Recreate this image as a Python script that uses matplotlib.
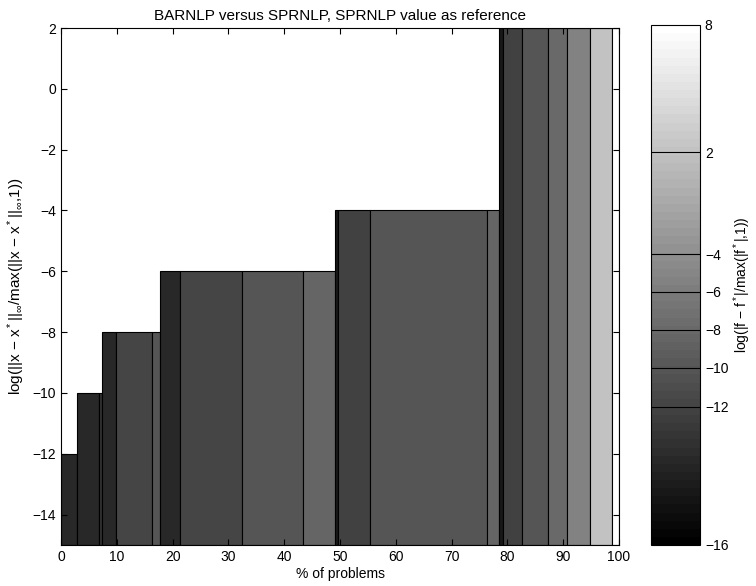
import numpy as np
import matplotlib
matplotlib.use('Agg')
import matplotlib.pyplot as plt
from matplotlib import colors

plt.rcParams['font.family'] = ['Liberation Sans', 'DejaVu Sans']
plt.rcParams['mathtext.fontset'] = 'custom'
plt.rcParams['mathtext.rm'] = 'Liberation Sans'
plt.rcParams['mathtext.it'] = 'Liberation Sans'
plt.rcParams['mathtext.sf'] = 'Liberation Sans'

# bordes de cada barra (% de problemas)
x_edges = [0, 2.87, 6.86, 7.40, 9.80, 16.25, 17.80, 21.38, 32.38, 43.32, 49.10,
           49.70, 55.43, 76.29, 78.55, 79.16, 82.67, 87.22, 90.73, 94.80, 98.80, 100]
# precision en x (altura)
x_acc = [-12, -10, -10, -8, -8, -8, -6, -6, -6, -6,
         -4, -4, -4, -4, 2, 2, 2, 2, 2, 2, 2]
# precision en f (color)
f_acc = [-13.5, -13.5, -13, -13.5, -12, -10.2, -13.5, -12, -10.2, -8.4,
         -14.5, -12.2, -10.2, -8.4, -14.5, -12.2, -10.2, -8.1, -5.6, 2, 8]

# escala de la barra de colores
cb_ticks = [-16, -12, -10, -8, -6, -4, 2, 8]
cb_pos = [0, 0.266, 0.341, 0.414, 0.487, 0.559, 0.755, 1.0]

y_floor = -15
y_top = 2

norm = colors.FuncNorm((lambda v: np.interp(v, cb_ticks, cb_pos),
                        lambda p: np.interp(p, cb_pos, cb_ticks)),
                       vmin=cb_ticks[0], vmax=cb_ticks[-1])
cmap = plt.get_cmap('gray', 64)

fig = plt.figure(figsize=(7.56, 5.86), dpi=100)
ax = fig.add_axes([61/756, 41/586, 558/756, 517/586])
cax = fig.add_axes([651/756, 41/586, 49/756, 520/586])

left = np.array(x_edges[:-1])
width = np.diff(x_edges)
heights = np.array(x_acc) - y_floor
ax.bar(left, heights, width, bottom=y_floor, align='edge',
       color=cmap(norm(np.array(f_acc))), edgecolor='black', linewidth=0.8)

ax.set_xlim(0, 100)
ax.set_ylim(y_floor, y_top)
ax.set_xticks(np.arange(0, 101, 10))
ax.set_yticks(np.arange(-14, 3, 2))
ax.tick_params(direction='in', top=True, right=True, labelsize=10, length=4)
ax.set_xlabel('% of problems', fontsize=10, labelpad=2)
ax.set_ylabel(r'log(||x $-$ x$^*$||$_\infty$/max(||x $-$ x$^*$||$_\infty$,1))',
              fontsize=11, labelpad=4)
ax.set_title('BARNLP versus SPRNLP, SPRNLP value as reference', fontsize=11, pad=6)

sm = plt.cm.ScalarMappable(norm=norm, cmap=cmap)
cb = fig.colorbar(sm, cax=cax, ticks=cb_ticks)
cb.outline.set_linewidth(0.8)
cax.tick_params(direction='in', length=0, labelsize=10)
cax.set_yticklabels([str(t).replace('-', '\u2212') for t in cb_ticks])
for t in cb_ticks[1:-1]:
    cax.axhline(t, color='black', linewidth=0.8)
cb.set_label(r'log(|f $-$ f$^*$|/max(|f$^*$|,1))', fontsize=10, labelpad=2)

fig.savefig('out.png', dpi=100)
